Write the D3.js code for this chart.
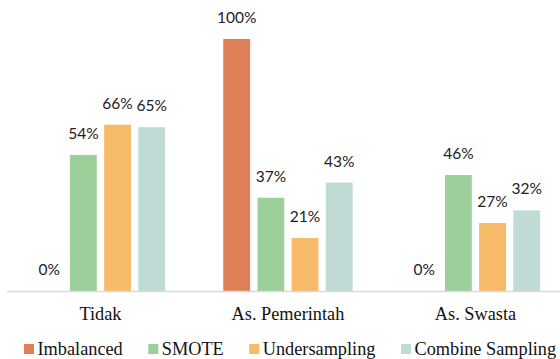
<!DOCTYPE html>
<html>
<head>
<meta charset="utf-8">
<script src="https://cdn.jsdelivr.net/npm/d3@7"></script>
<style>
  html, body { margin: 0; padding: 0; background: #fff; }
  svg { display: block; }
</style>
</head>
<body>
<svg id="chart" width="560" height="359"></svg>
<script>
// Categories, series and values (share of predictions per class)
const categories = ["Tidak", "As. Pemerintah", "As. Swasta"];
const seriesNames = ["Imbalanced", "SMOTE", "Undersampling", "Combine Sampling"];
const imbalanced = [0.00, 1.00, 0.00];
const smote = [0.54, 0.37, 0.46];
const undersampling = [0.66, 0.21, 0.27];
const combineSampling = [0.65, 0.43, 0.32];
const seriesColors = ["#df7f55", "#9bd09a", "#f6ba68", "#c0dad5"];

const seriesValues = [imbalanced, smote, undersampling, combineSampling];

const svg = d3.select("#chart");
const W = 560, H = 359;

const x0 = d3.scaleBand()
  .domain(categories)
  .range([6.7, 569.2])
  .paddingInner(0.31)
  .paddingOuter(0.155);

const x1 = d3.scaleBand()
  .domain(seriesNames)
  .range([0, x0.bandwidth()])
  .paddingInner(0.215)
  .paddingOuter(0);

const y = d3.scaleLinear().domain([0, 1]).range([291, 39]);

const color = d3.scaleOrdinal().domain(seriesNames).range(seriesColors);

const rows = [];
categories.forEach((c, i) => {
  seriesNames.forEach((s, j) => {
    rows.push({ category: c, series: s, value: seriesValues[j][i] });
  });
});

// Bars
const groups = svg.append("g")
  .selectAll("g")
  .data(categories)
  .join("g")
  .attr("transform", d => `translate(${x0(d)},0)`);

groups.selectAll("rect")
  .data(c => rows.filter(r => r.category === c))
  .join("rect")
  .attr("x", d => x1(d.series))
  .attr("y", d => y(d.value))
  .attr("width", x1.bandwidth())
  .attr("height", d => y(0) - y(d.value))
  .attr("fill", d => color(d.series));

// Value labels
groups.selectAll("text.val")
  .data(c => rows.filter(r => r.category === c))
  .join("text")
  .attr("class", "val")
  .attr("x", d => x1(d.series) + x1.bandwidth() / 2)
  .attr("y", d => y(d.value) - 16)
  .attr("text-anchor", "middle")
  .attr("font-family", "Lato, 'Open Sans', sans-serif")
  .attr("font-size", 15.5)
  .attr("fill", "#222")
  .text(d => d3.format(".0%")(d.value));

// Category axis
const xAxis = d3.axisBottom(x0).tickSize(0).tickPadding(0);
const axisG = svg.append("g")
  .attr("transform", "translate(0,291.5)")
  .call(xAxis);
axisG.select(".domain").remove();
axisG.append("line")
  .attr("x1", 7).attr("x2", W)
  .attr("y1", 0).attr("y2", 0)
  .attr("stroke", "#d9d9d9")
  .attr("stroke-width", 1.5);
axisG.selectAll(".tick text")
  .attr("y", 28)
  .attr("dy", 0)
  .attr("font-family", "'Liberation Serif', 'Times New Roman', serif")
  .attr("font-size", 18.3)
  .attr("fill", "#111");

// Legend
const legend = svg.append("g").attr("transform", "translate(24,0)");
let lx = 0;
seriesNames.forEach(name => {
  const item = legend.append("g").attr("transform", `translate(${lx},0)`);
  item.append("rect")
    .attr("x", 0).attr("y", 344)
    .attr("width", 10).attr("height", 10)
    .attr("fill", color(name));
  const t = item.append("text")
    .attr("x", 13.5).attr("y", 355)
    .attr("font-family", "'Liberation Serif', 'Times New Roman', serif")
    .attr("font-size", 18.3)
    .attr("fill", "#111")
    .text(name);
  lx += 13.5 + t.node().getComputedTextLength() + 25.5;
});
</script>
</body>
</html>
